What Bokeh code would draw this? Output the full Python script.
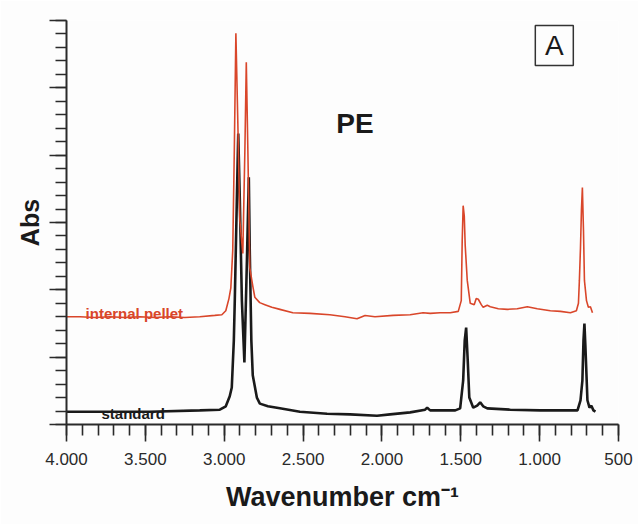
from bokeh.plotting import figure
from bokeh.models import Range1d, SingleIntervalTicker, Label, CustomJSTickFormatter
from bokeh.embed import file_html
from bokeh.resources import INLINE

# ---- data ----
x_ticks = [4000, 3500, 3000, 2500, 2000, 1500, 1000, 500]
x_tick_labels = ["4.000", "3.500", "3.000", "2.500", "2.000", "1.500", "1.000", "500"]

pellet_wn = [4000, 3915, 3820, 3725, 3630, 3535, 3440, 3345, 3250, 3155, 3060, 3015,
             2990, 2970, 2958, 2946, 2936, 2926, 2914, 2901, 2882, 2869, 2860, 2850,
             2838, 2819, 2806, 2775, 2742, 2698, 2647, 2565, 2456, 2330, 2234, 2158,
             2107, 2044, 1929, 1821, 1739, 1694, 1631, 1567, 1516, 1497, 1491, 1485,
             1478, 1472, 1459, 1440, 1415, 1402, 1389, 1370, 1358, 1332, 1313, 1262,
             1205, 1142, 1078, 1015, 932, 868, 805, 767, 754, 748, 741, 735, 729, 722,
             716, 703, 691, 678, 665]
pellet_abs = [1.60, 1.60, 1.59, 1.60, 1.59, 1.60, 1.59, 1.60, 1.59, 1.60, 1.62, 1.63,
              1.69, 1.87, 2.03, 2.58, 4.07, 5.81, 4.52, 3.03, 2.54, 4.07, 5.38, 4.07,
              2.33, 2.06, 1.89, 1.81, 1.78, 1.74, 1.71, 1.66, 1.65, 1.63, 1.60, 1.57,
              1.62, 1.60, 1.62, 1.63, 1.66, 1.65, 1.66, 1.66, 1.68, 1.84, 2.73, 3.25,
              3.10, 2.66, 2.14, 1.80, 1.78, 1.87, 1.86, 1.78, 1.74, 1.77, 1.75, 1.72,
              1.71, 1.72, 1.75, 1.72, 1.69, 1.68, 1.66, 1.69, 1.80, 2.14, 2.63, 3.18,
              3.52, 2.88, 2.14, 1.84, 1.74, 1.75, 1.66]

standard_wn = [4000, 3790, 3473, 3155, 3028, 2990, 2965, 2952, 2939, 2933, 2920, 2911,
               2901, 2888, 2872, 2856, 2844, 2838, 2828, 2819, 2793, 2774, 2723, 2647,
               2520, 2348, 2202, 2031, 1948, 1821, 1726, 1713, 1694, 1631, 1535, 1504,
               1485, 1475, 1466, 1456, 1446, 1421, 1396, 1377, 1358, 1332, 1186, 995,
               837, 760, 741, 729, 722, 716, 710, 697, 684, 672, 659, 646]
standard_abs = [0.19, 0.19, 0.19, 0.21, 0.22, 0.27, 0.42, 0.55, 1.25, 1.84, 3.33, 4.32,
                3.33, 1.84, 0.92, 2.44, 3.67, 2.58, 1.25, 0.73, 0.40, 0.31, 0.27, 0.24,
                0.19, 0.16, 0.15, 0.13, 0.15, 0.18, 0.22, 0.25, 0.21, 0.21, 0.21, 0.24,
                0.65, 1.25, 1.44, 0.95, 0.40, 0.25, 0.28, 0.33, 0.27, 0.24, 0.22, 0.21,
                0.21, 0.21, 0.36, 0.65, 1.25, 1.50, 1.17, 0.36, 0.25, 0.28, 0.21, 0.19]

FONT = "Liberation Sans"
RED = "#d9462a"
DARK = "#1a1a1a"

p = figure(width=638, height=524, x_range=Range1d(4000, 500), y_range=Range1d(0, 6),
           output_backend="svg", toolbar_location=None,
           min_border_left=66, min_border_right=20, min_border_top=20, min_border_bottom=100)
p.outline_line_color = None
p.grid.visible = False
p.background_fill_color = "#fdfdfd"
p.border_fill_color = "#fdfdfd"

# x axis
xa = p.xaxis[0]
xa.ticker = SingleIntervalTicker(interval=500, num_minor_ticks=5)
xa.major_label_overrides = {k: v for k, v in zip(x_ticks, x_tick_labels)}
xa.major_tick_in = 0
xa.minor_tick_in = 0
xa.major_tick_out = 17
xa.minor_tick_out = 11
xa.axis_line_width = 2
xa.axis_line_color = "#2a2a2a"
xa.major_tick_line_width = 1.6
xa.minor_tick_line_width = 1.6
xa.major_tick_line_color = "#2a2a2a"
xa.minor_tick_line_color = "#2a2a2a"
xa.major_label_text_font = FONT
xa.major_label_text_font_size = "17px"
xa.major_label_text_color = "#2a2a2a"
xa.major_label_standoff = 11
xa.axis_label = "Wavenumber cm\u207b\u00b9"
xa.axis_label_text_font = FONT
xa.axis_label_text_font_size = "27px"
xa.axis_label_text_font_style = "bold"
xa.axis_label_text_color = "#1a1a1a"
xa.axis_label_standoff = 14

# y axis (ticks only, no tick labels)
ya = p.yaxis[0]
ya.ticker = SingleIntervalTicker(interval=1, num_minor_ticks=5)
ya.formatter = CustomJSTickFormatter(code="return ''")
ya.major_tick_in = 0
ya.minor_tick_in = 0
ya.major_tick_out = 17
ya.minor_tick_out = 11
ya.axis_line_width = 2
ya.axis_line_color = "#2a2a2a"
ya.major_tick_line_width = 1.6
ya.minor_tick_line_width = 1.6
ya.major_tick_line_color = "#2a2a2a"
ya.minor_tick_line_color = "#2a2a2a"
ya.major_label_standoff = 0
ya.axis_label = "Abs"
ya.axis_label_text_font = FONT
ya.axis_label_text_font_size = "25px"
ya.axis_label_text_font_style = "bold"
ya.axis_label_text_color = "#1a1a1a"
ya.axis_label_standoff = 6

# spectra
p.line(standard_wn, standard_abs, line_color=DARK, line_width=2.6)
p.line(pellet_wn, pellet_abs, line_color=RED, line_width=1.6)

# annotations
p.add_layout(Label(x=3879, y=1.65, text="internal pellet", text_font=FONT, text_font_size="15px",
                   text_font_style="bold", text_color=RED, text_baseline="alphabetic"))
p.add_layout(Label(x=3778, y=0.16, text="standard", text_font=FONT, text_font_size="15px",
                   text_font_style="bold", text_color=DARK, text_baseline="alphabetic"))
p.add_layout(Label(x=2171, y=4.47, text="PE", text_font=FONT, text_font_size="28px",
                   text_font_style="bold", text_color=DARK, text_align="center",
                   text_baseline="middle"))
p.rect(x=[907], y=[5.63], width=38, height=40, width_units="screen", height_units="screen",
       fill_color=None, line_color="#333333", line_width=1.5)
p.add_layout(Label(x=907, y=5.63, text="A", text_font=FONT, text_font_size="28px",
                   text_color=DARK, text_align="center", text_baseline="middle"))

open("out.html", "w").write(file_html(p, INLINE))
